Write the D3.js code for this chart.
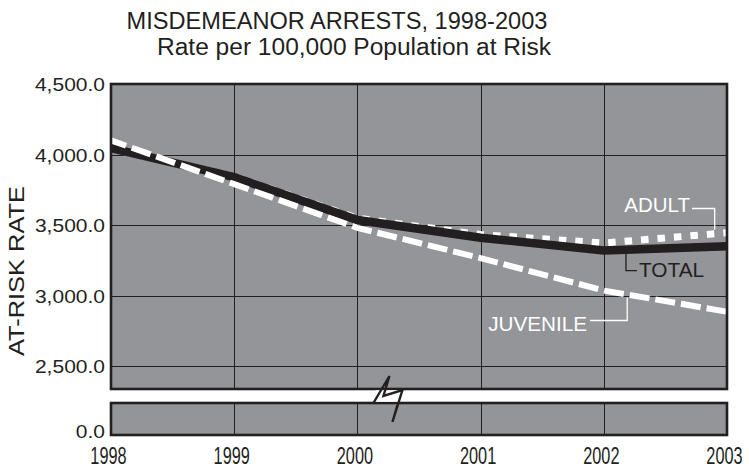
<!DOCTYPE html>
<html>
<head>
<meta charset="utf-8">
<script src="https://cdn.jsdelivr.net/npm/d3@7"></script>
<style>
  html, body { margin: 0; padding: 0; background: #ffffff; }
  svg { display: block; font-family: "Liberation Sans", Arial, Helvetica, sans-serif; }
</style>
</head>
<body>
<svg id="chart" width="749" height="467"></svg>
<script>
// ---------- data ----------
const years = [1998, 1999, 2000, 2001, 2002, 2003];
const totalRate = [4045, 3840, 3535, 3410, 3320, 3350];
const adultRate = [4040, 3845, 3548, 3432, 3372, 3445];
const juvenileRate = [4100, 3790, 3480, 3265, 3035, 2885];
const upperTicks = [2500, 3000, 3500, 4000, 4500];
const lowerTicks = [0];
const titleLines = ["MISDEMEANOR ARRESTS, 1998-2003", "Rate per 100,000 Population at Risk"];
const yAxisTitle = "AT-RISK RATE";
const seriesLabels = ["ADULT", "TOTAL", "JUVENILE"];

// ---------- layout ----------
const left = 111, right = 727;
const upperTop = 84, upperBottom = 389;
const lowerTop = 403, lowerBottom = 435;
const dark = "#231f20", panelFill = "#939598";

const svg = d3.select("#chart");

const x = d3.scaleLinear().domain([1998, 2003]).range([left, right]);
const yU = d3.scaleLinear().domain([2500, 4500]).range([366, upperTop]);
const yL = d3.scaleLinear().domain([0, 100]).range([lowerBottom, lowerTop]);

// title
svg.append("text").attr("x", 337).attr("y", 29).attr("text-anchor", "middle")
  .attr("font-size", 23.6).attr("fill", dark).text(titleLines[0]);
svg.append("text").attr("x", 354).attr("y", 55).attr("text-anchor", "middle")
  .attr("font-size", 23).attr("fill", dark)
  .attr("textLength", 394).attr("lengthAdjust", "spacingAndGlyphs").text(titleLines[1]);

// y axis title
svg.append("text")
  .attr("transform", `translate(24,271) rotate(-90)`)
  .attr("text-anchor", "middle").attr("font-size", 22.5).attr("fill", dark)
  .attr("textLength", 170).attr("lengthAdjust", "spacingAndGlyphs")
  .text(yAxisTitle);

// panels
svg.append("rect").attr("x", left).attr("y", upperTop)
  .attr("width", right - left).attr("height", upperBottom - upperTop).attr("fill", panelFill);
svg.append("rect").attr("x", left).attr("y", lowerTop)
  .attr("width", right - left).attr("height", lowerBottom - lowerTop).attr("fill", panelFill);

// grid lines
const grid = svg.append("g").attr("stroke", dark).attr("stroke-width", 1);
grid.selectAll("line.h").data(upperTicks.filter(t => t < 4500)).join("line")
  .attr("x1", left).attr("x2", right)
  .attr("y1", d => Math.round(yU(d)) + 0.5).attr("y2", d => Math.round(yU(d)) + 0.5);
grid.selectAll("line.vu").data(years.slice(1, -1)).join("line")
  .attr("x1", d => Math.round(x(d)) + 0.5).attr("x2", d => Math.round(x(d)) + 0.5)
  .attr("y1", upperTop).attr("y2", upperBottom);
svg.append("g").attr("stroke", dark).attr("stroke-width", 1)
  .selectAll("line").data(years.slice(1, -1)).join("line")
  .attr("x1", d => Math.round(x(d)) + 0.5).attr("x2", d => Math.round(x(d)) + 0.5)
  .attr("y1", lowerTop).attr("y2", lowerBottom);

// series
const line = d3.line().x((d, i) => x(years[i])).y(d => yU(d));
svg.append("path").datum(adultRate).attr("d", line)
  .attr("fill", "none").attr("stroke", "#ffffff").attr("stroke-width", 7)
  .attr("stroke-dasharray", "7.5,9").attr("stroke-dashoffset", 3);
svg.append("path").datum(totalRate).attr("d", line)
  .attr("fill", "none").attr("stroke", dark).attr("stroke-width", 8.5)
  .attr("stroke-linejoin", "miter");
svg.append("path").datum(juvenileRate).attr("d", line)
  .attr("fill", "none").attr("stroke", "#ffffff").attr("stroke-width", 6)
  .attr("stroke-dasharray", "20,6").attr("stroke-dashoffset", 4);

// frames
svg.append("rect").attr("x", left).attr("y", upperTop)
  .attr("width", right - left).attr("height", upperBottom - upperTop)
  .attr("fill", "none").attr("stroke", dark).attr("stroke-width", 2.6);
svg.append("rect").attr("x", left).attr("y", lowerTop)
  .attr("width", right - left).attr("height", lowerBottom - lowerTop)
  .attr("fill", "none").attr("stroke", dark).attr("stroke-width", 2.6);

// axis break symbol
const bx = x(2000.26);
const gapMid = (upperBottom + lowerTop) / 2;
const boltOffsets = [[-16, 7], [0, -20], [-6, 0], [13, -6], [3, 26], [8, 9]];
svg.append("rect").attr("x", bx - 14).attr("y", upperBottom + 1.3)
  .attr("width", 24).attr("height", lowerTop - upperBottom - 2.6).attr("fill", "#ffffff");
svg.append("polyline")
  .attr("points", boltOffsets.map(p => [bx + p[0], gapMid + p[1]].join(",")).join(" "))
  .attr("fill", "none").attr("stroke", dark).attr("stroke-width", 2.4)
  .attr("stroke-linejoin", "miter");

// y tick labels
const fmt = d3.format(",.1f");
const yAxisU = d3.axisLeft(yU).tickValues(upperTicks).tickSize(0).tickFormat(fmt);
const gU = svg.append("g").attr("transform", `translate(${left - 6},0)`).call(yAxisU);
const yAxisL = d3.axisLeft(yL).tickValues(lowerTicks).tickSize(0).tickFormat(fmt);
const gL = svg.append("g").attr("transform", `translate(${left - 6},-4)`).call(yAxisL);
[gU, gL].forEach(g => {
  g.select(".domain").remove();
  g.selectAll("text").attr("x", 0).attr("dy", "0.36em")
    .attr("font-size", 18.6).attr("font-family", "Liberation Sans, Arial, sans-serif")
    .attr("fill", dark).attr("transform", "scale(1.13,1)");
});

// x tick labels
const xAxis = d3.axisBottom(x).tickValues(years).tickSize(0).tickFormat(d3.format("d"));
const gX = svg.append("g").attr("transform", `translate(-3,${lowerBottom})`).call(xAxis);
gX.select(".domain").remove();
gX.selectAll("text").attr("y", 0).attr("dy", 0)
  .attr("font-size", 23).attr("font-family", "Liberation Sans, Arial, sans-serif")
  .attr("fill", dark).attr("transform", "translate(0,28.5) scale(0.71,1)");

// series labels with leader lines
function interp(arr, yr) {
  const i = Math.min(Math.floor(yr - 1998), arr.length - 2);
  const t = yr - 1998 - i;
  return arr[i] + (arr[i + 1] - arr[i]) * t;
}
const lead = svg.append("g").attr("fill", "none").attr("stroke-width", 1.3);
// ADULT
const ax = x(2002.9);
lead.append("polyline").attr("stroke", "#ffffff")
  .attr("points", `692,208.5 ${ax},208.5 ${ax},${yU(interp(adultRate, 2002.9)) - 4}`);
svg.append("text").attr("x", 690).attr("y", 211.7).attr("text-anchor", "end")
  .attr("font-size", 20.5).attr("fill", "#ffffff").text(seriesLabels[0]);
// TOTAL
const tx = x(2002.18);
lead.append("polyline").attr("stroke", dark)
  .attr("points", `${tx},${yU(interp(totalRate, 2002.18)) + 4} ${tx},270.7 637,270.7`);
svg.append("text").attr("x", 639).attr("y", 277.3)
  .attr("font-size", 20.8).attr("fill", dark).text(seriesLabels[1]);
// JUVENILE
const jx = x(2002.19);
lead.append("polyline").attr("stroke", "#ffffff")
  .attr("points", `${jx},${yU(interp(juvenileRate, 2002.19)) + 3} ${jx},320.5 590,320.5`);
svg.append("text").attr("x", 587).attr("y", 331)
  .attr("text-anchor", "end").attr("font-size", 20.7).attr("fill", "#ffffff").text(seriesLabels[2]);
</script>
</body>
</html>
